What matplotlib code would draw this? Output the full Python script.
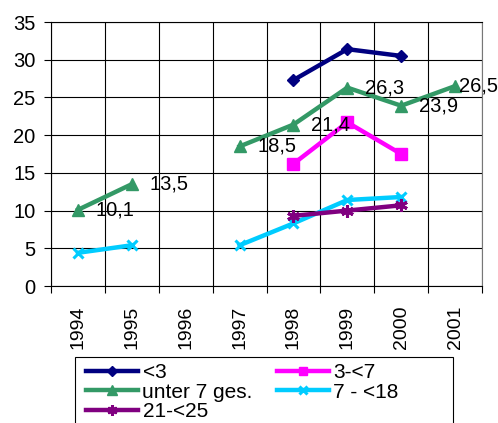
import matplotlib
matplotlib.use("Agg")
import matplotlib.pyplot as plt
from matplotlib.patches import Rectangle
import numpy as np

plt.rcParams['font.family'] = ['Liberation Sans', 'DejaVu Sans']

years = ["1994", "1995", "1996", "1997", "1998", "1999", "2000", "2001"]
nan = np.nan
lt3 = [nan, nan, nan, nan, 27.3, 31.4, 30.5, nan]
from3to7 = [nan, nan, nan, nan, 16.2, 21.7, 17.5, nan]
under7 = [10.1, 13.5, nan, 18.5, 21.4, 26.3, 23.9, 26.5]
from7to18 = [4.4, 5.4, nan, 5.4, 8.3, 11.4, 11.8, nan]
from21to25 = [nan, nan, nan, nan, 9.3, 10.0, 10.7, nan]

series = [
    ("<3", lt3, "#000080", "D", 6),
    ("3-<7", from3to7, "#FF00FF", "s", 8),
    ("unter 7 ges.", under7, "#339966", "^", 9),
    ("7 - <18", from7to18, "#00CCFF", "x", 7),
    ("21-<25", from21to25, "#800080", (6, 2, 0), 9),
]

fig = plt.figure(figsize=(4.98, 4.23), dpi=100)
ax = fig.add_axes([51/498, 1 - 286/423, 431/498, 264/423])

x = np.arange(len(years))
handles = {}
for name, vals, color, marker, ms in series:
    thin = marker == "x" or isinstance(marker, tuple)
    h, = ax.plot(x, vals, color=color, lw=3.2, marker=marker, ms=ms,
                 mew=2.2 if thin else 1, mec=color, mfc=color, label=name)
    handles[name] = h

# value labels on the total series (the last one is kept inside the figure)
valid = [i for i, v in enumerate(under7) if not np.isnan(v)]
for i in valid:
    v = under7[i]
    dx = 2.5 if i == valid[-1] else 13
    ax.annotate(f"{v:.1f}".replace(".", ","), (x[i], v), xytext=(dx, 0),
                textcoords="offset points", va="center", ha="left",
                fontsize=14.5, annotation_clip=False)

ax.set_xlim(-0.5, len(years) - 0.5)
ax.set_ylim(0, 35)
ax.set_yticks(np.arange(0, 36, 5))
ax.set_xticks(np.arange(-0.5, len(years), 1))
ax.set_xticklabels([])
ax.set_xticks(x, minor=True)
ax.set_xticklabels(years, minor=True, rotation=90, fontsize=14)
ax.tick_params(axis='x', which='minor', length=0, pad=14)
ax.tick_params(axis='x', which='major', length=5, direction='out', color='black')
ax.tick_params(axis='y', length=5, direction='out', labelsize=14.5, pad=6)
ax.grid(True, which='major', color='black', lw=0.8)
for s in ax.spines.values():
    s.set_color('black')
    s.set_linewidth(0.8)
ax.spines['right'].set_color('#777777')
ax.set_axisbelow(True)

order = ["<3", "unter 7 ges.", "21-<25", "3-<7", "7 - <18"]
leg = fig.legend([handles[n] for n in order], order, ncol=2,
                 loc="upper left", bbox_to_anchor=(80/498, 1 - 357/423),
                 fontsize=15, frameon=False, markerscale=0.8,
                 handlelength=2.5, handletextpad=0.2, columnspacing=1.15,
                 labelspacing=0.02, borderpad=0.3, borderaxespad=0)

# legend box, running past the lower edge of the figure
fig.add_artist(Rectangle((75/498, -0.1), 378/498, 1 - 357/423 + 0.1,
                         transform=fig.transFigure, fill=False,
                         edgecolor='black', lw=0.8, zorder=0))

fig.savefig("out.png", dpi=100)
